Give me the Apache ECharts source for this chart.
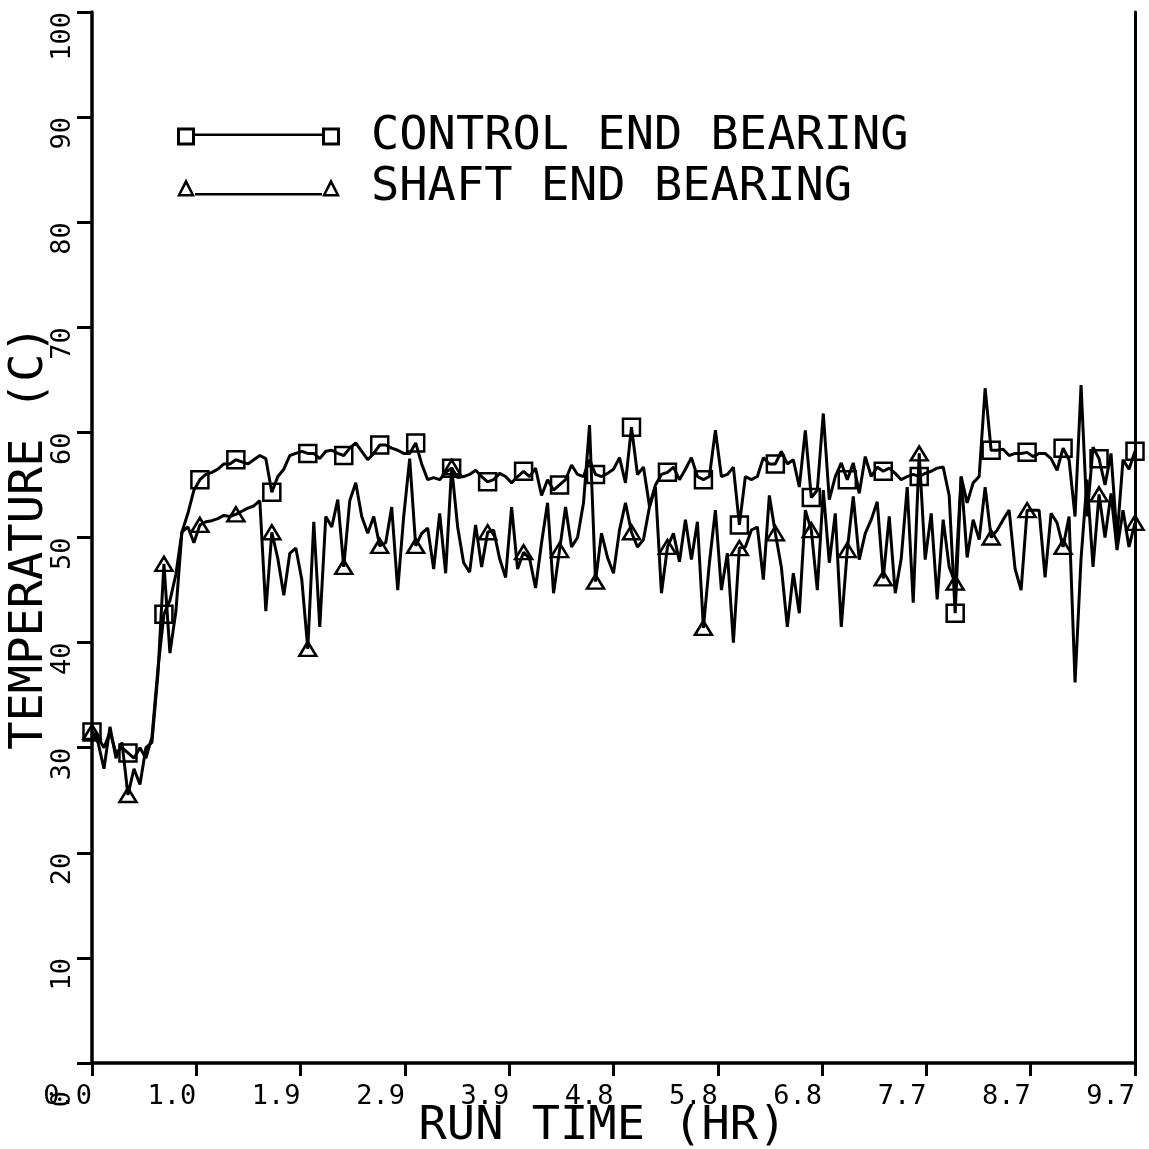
<!DOCTYPE html>
<html><head><meta charset="utf-8">
<script src="https://cdn.jsdelivr.net/npm/echarts@6/dist/echarts.min.js"></script>
<style>html,body{margin:0;padding:0;background:#fff}#c{width:1149px;height:1149px}</style>
</head><body><div id="c"></div>
<script>
// ---- data ----
const runTimeMax = 9.68;           // hours, full span of the x axis
const markEvery = 6;               // a marker is drawn on every 6th sample
const xTickLabels = ['0.0','1.0','1.9','2.9','3.9','4.8','5.8','6.8','7.7','8.7','9.7'];
const yTickLabels = ['0','10','20','30','40','50','60','70','80','90','100'];
const seriesNames = ['CONTROL END BEARING','SHAFT END BEARING'];

const controlEnd = [31.5,
 31.0,30.0,31.5,29.5,30.0,29.5,
 29.0,30.0,29.0,31.0,37.5,42.7,
 44.0,46.5,50.5,52.3,54.5,55.5,
 56.0,56.2,56.5,57.0,57.0,57.4,
 57.2,57.0,57.4,57.8,57.5,54.3,
 55.8,56.5,57.8,58.0,58.2,58.0,
 58.0,57.5,58.2,58.3,58.0,57.8,
 58.5,59.0,58.2,57.4,58.0,58.8,
 58.8,58.5,58.3,58.0,58.0,59.0,
 57.0,55.5,55.7,55.5,56.2,56.6,
 55.7,55.8,56.0,56.4,55.8,55.3,
 55.5,56.1,55.8,55.2,55.8,56.3,
 55.8,56.6,54.0,55.5,54.5,55.0,
 55.5,56.9,56.0,55.8,57.4,56.0,
 55.8,56.1,56.5,57.6,55.2,60.5,
 56.0,56.7,53.0,55.0,56.0,56.2,
 56.7,55.5,56.5,57.6,55.8,55.5,
 55.8,60.2,55.8,56.0,56.7,51.2,
 55.8,55.5,55.8,57.6,57.0,57.0,
 58.2,57.0,57.4,54.8,60.2,53.8,
 54.5,61.8,53.6,55.8,57.1,55.5,
 57.1,54.2,57.7,55.8,56.7,56.3,
 56.6,56.1,55.5,55.8,56.0,55.8,
 56.1,56.3,56.6,56.7,54.0,42.8,
 55.8,53.3,55.2,55.8,64.2,58.3,
 58.3,58.4,57.8,58.0,58.0,58.1,
 57.7,58.0,58.0,57.5,56.4,58.5,
 57.4,52.0,64.5,52.0,58.6,57.5,
 55.0,58.0,50.0,57.4,56.5,58.2];

const shaftEnd = [31.5,
 30.5,28.0,32.0,29.0,30.5,25.5,
 28.0,26.5,30.0,30.5,37.0,47.5,
 39.0,43.0,50.5,51.0,49.5,51.2,
 51.5,51.6,51.8,52.1,52.0,52.2,
 52.5,52.8,53.0,53.5,43.0,50.5,
 48.0,44.5,48.5,49.0,46.0,39.4,
 51.5,41.5,52.0,51.0,53.6,47.2,
 53.5,55.2,52.0,50.4,52.0,49.2,
 49.5,52.9,45.0,52.0,57.5,49.2,
 50.4,50.9,47.0,52.3,46.6,56.7,
 51.0,47.6,46.7,51.2,47.2,50.5,
 50.7,48.0,46.2,52.9,47.0,48.6,
 48.0,45.2,49.5,53.3,44.7,48.8,
 52.9,49.1,50.0,53.3,60.7,45.8,
 50.4,48.1,46.6,50.7,53.3,50.5,
 49.1,49.8,52.9,54.8,44.7,49.1,
 50.4,47.7,51.7,47.9,51.5,41.4,
 47.6,52.6,45.0,48.5,40.0,49.0,
 49.1,50.7,51.0,46.0,54.0,50.4,
 47.2,41.5,46.6,42.8,52.6,50.7,
 45.0,54.5,47.6,52.3,41.5,48.8,
 53.9,47.9,50.4,51.7,53.4,46.1,
 52.0,44.7,48.0,54.8,43.8,58.0,
 47.9,52.3,44.1,51.7,47.2,45.7,
 55.8,48.1,51.7,49.8,54.8,50.0,
 50.7,51.7,52.6,47.0,45.0,52.6,
 52.6,52.6,46.2,52.3,51.4,49.1,
 52.0,36.2,48.0,55.5,47.2,54.1,
 50.0,54.2,48.8,52.6,49.1,51.4];

// ---- build ----
const nSamples = controlEnd.length;
const dt = runTimeMax / (nSamples - 1);
const toPairs = arr => arr.map((v, i) => [i * dt, v]);

const FONT = 'DejaVu Sans Mono';
const sqIcon = 'path://M0 0H18V18H0Z M3 3V15H15V3Z M18 6H145V8.5H18Z M145 0H163V18H145Z M148 3V15H160V3Z';
const trIcon = 'path://M0 18L9 0L18 18Z M4 15.5L14 15.5L9 6Z M18 14.5H145V17H18Z M145 18L154 0L163 18Z M149 15.5L159 15.5L154 6Z';

const chart = echarts.init(document.getElementById('c'), null, {renderer: 'canvas'});
const baseSeries = (name, data, sym, size) => ({
  name, type: 'line', data: toPairs(data),
  showAllSymbol: true,
  symbol: (v, p) => (p.dataIndex % markEvery === 0 ? sym : 'none'),
  symbolSize: size,
  lineStyle: {color: '#000', width: 3},
  itemStyle: {color: 'rgba(0,0,0,0)', borderColor: '#000', borderWidth: 2.5},
  emphasis: {disabled: true},
  z: 3
});

chart.setOption({
  animation: false,
  backgroundColor: '#fff',
  grid: {left: 92, right: 14, top: 12, bottom: 86, containLabel: false, outerBoundsMode: 'none'},
  legend: {
    orient: 'vertical', left: 172, top: 108, itemWidth: 163, itemHeight: 18, itemGap: 4,
    selectedMode: false,
    textStyle: {fontFamily: FONT, fontSize: 47, color: '#000', padding: [0, 0, 0, 26], lineHeight: 44},
    data: [
      {name: seriesNames[0], icon: sqIcon, itemStyle: {color: '#000', borderWidth: 0}},
      {name: seriesNames[1], icon: trIcon, itemStyle: {color: '#000', borderWidth: 0}}
    ]
  },
  xAxis: {
    type: 'value', min: 0, max: runTimeMax, interval: runTimeMax / 10,
    name: 'RUN TIME (HR)', nameLocation: 'middle', nameGap: 40, nameMoveOverlap: false,
    nameTextStyle: {fontFamily: FONT, fontSize: 47, color: '#000', padding: [0, 22, 0, 0]},
    axisLine: {lineStyle: {color: '#000', width: 3.5}},
    axisTick: {inside: false, length: 13, lineStyle: {color: '#000', width: 3}},
    axisLabel: {
      fontFamily: FONT, fontSize: 27, color: '#000', margin: 20, align: 'right',
      showMinLabel: true, showMaxLabel: true,
      formatter: v => xTickLabels[Math.round(v / (runTimeMax / 10))]
    },
    splitLine: {show: false}
  },
  yAxis: [{
    type: 'value', min: 0, max: 100, interval: 10,
    name: 'TEMPERATURE (C)', nameLocation: 'middle', nameGap: 39, nameMoveOverlap: false,
    nameTextStyle: {fontFamily: FONT, fontSize: 47, color: '#000'},
    axisLine: {show: true, lineStyle: {color: '#000', width: 3.5}},
    axisTick: {inside: false, length: 15, lineStyle: {color: '#000', width: 3}},
    axisLabel: {
      fontFamily: FONT, fontSize: 27, color: '#000', margin: 16, rotate: 90, align: 'right',
      formatter: v => {
        const s = yTickLabels[Math.round(v / 10)];
        return v === 0 ? '{z|' + s + '}' : s;
      },
      rich: {z: {fontFamily: FONT, fontSize: 27, color: '#000', padding: [0, 28, 0, 0]}}
    },
    splitLine: {show: false}
  }, {
    type: 'value', min: 0, max: 100, interval: 10, position: 'right',
    axisLine: {show: true, lineStyle: {color: '#000', width: 3}},
    axisTick: {show: false}, axisLabel: {show: false}, splitLine: {show: false}
  }],
  series: [
    baseSeries(seriesNames[0], controlEnd, 'rect', 17),
    baseSeries(seriesNames[1], shaftEnd, 'triangle', [17, 14])
  ]
});
</script></body></html>
